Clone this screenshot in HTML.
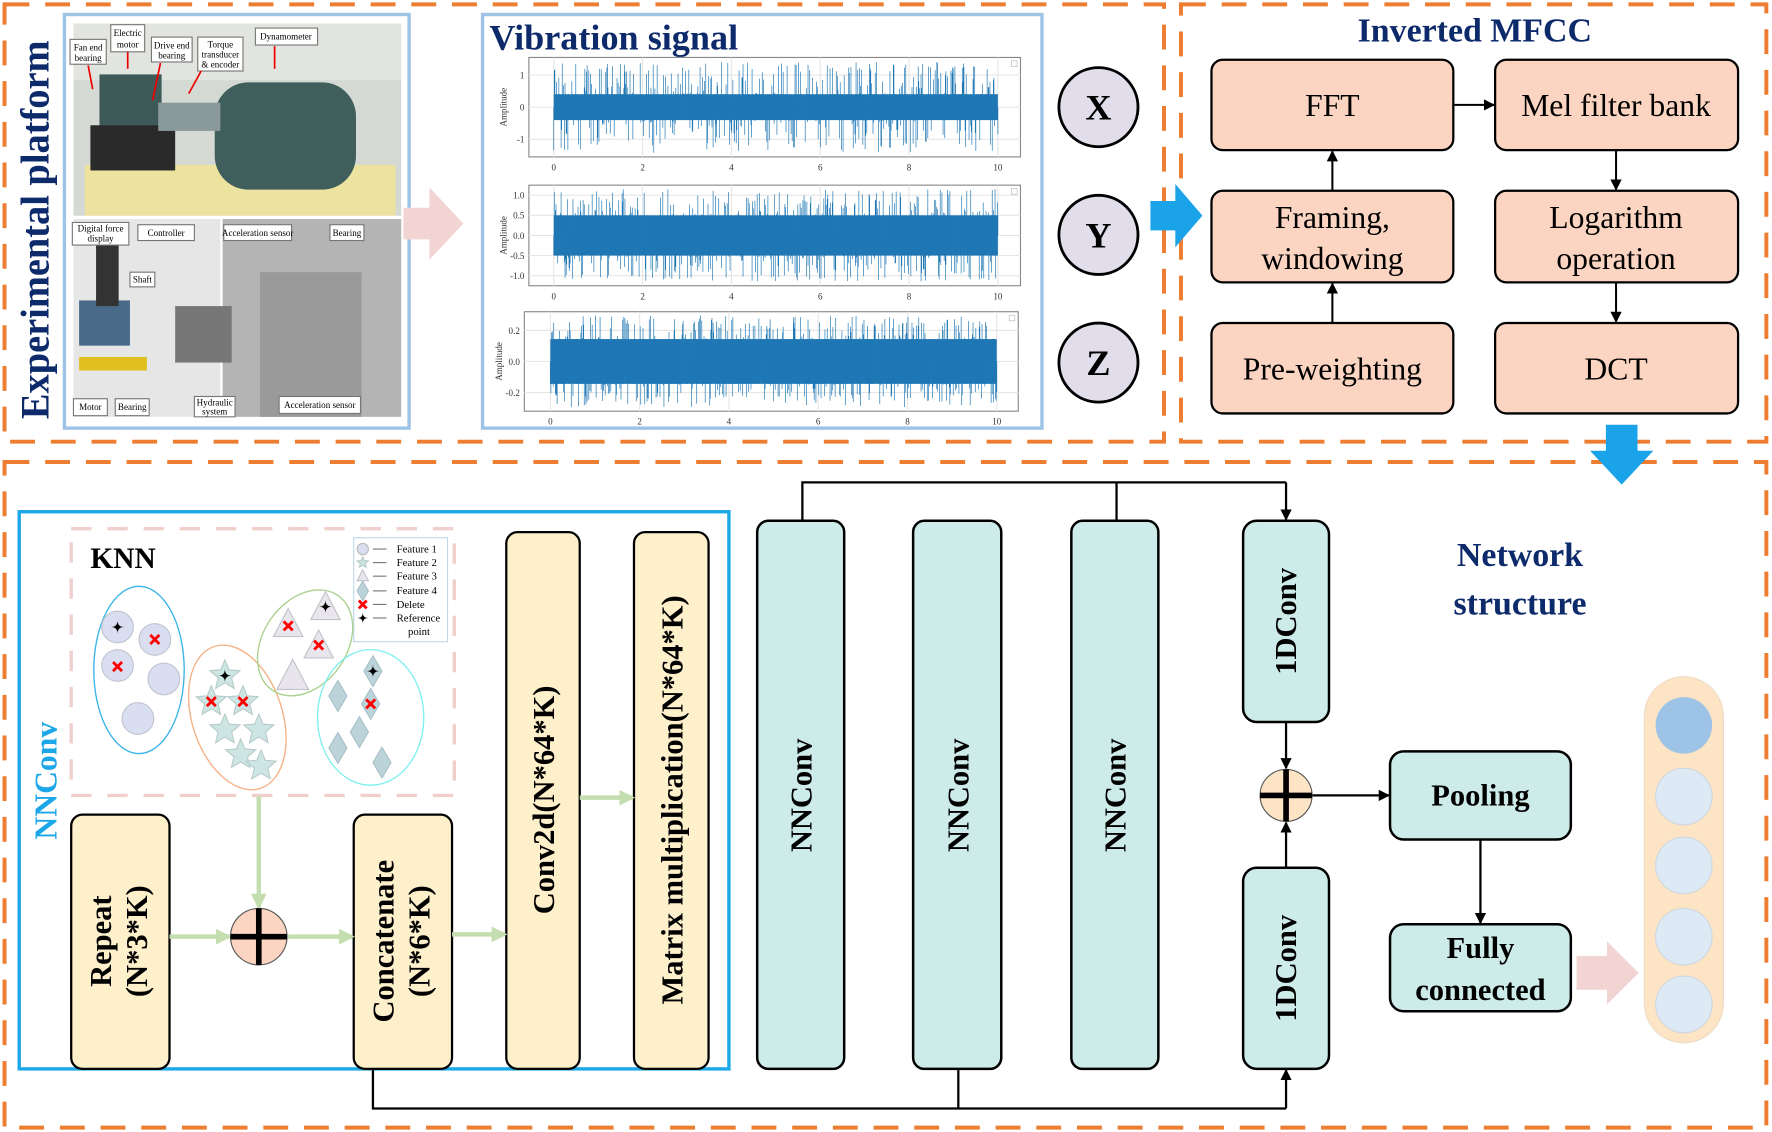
<!DOCTYPE html>
<html><head><meta charset="utf-8"><style>
html,body{margin:0;padding:0;background:#fff}
svg{display:block}
text{font-family:"Liberation Serif",serif}
</style></head><body>
<svg id="s" width="1772" height="1132" viewBox="0 0 1568 1000" xmlns="http://www.w3.org/2000/svg">
<defs>
<marker id="ah" markerWidth="10" markerHeight="10" refX="9" refY="5" orient="auto" markerUnits="userSpaceOnUse"><path d="M0,0 L10,5 L0,10 z" fill="#000"/></marker>
<marker id="ag" markerWidth="14" markerHeight="14" refX="12" refY="7" orient="auto" markerUnits="userSpaceOnUse"><path d="M0,0 L14,7 L0,14 z" fill="#C5DEB0"/></marker>
</defs>
<g fill="none" stroke="#ED7D31" stroke-width="3.5" stroke-dasharray="22,14">
<rect x="4" y="3" width="1026" height="387"/>
<rect x="1045" y="3" width="518" height="387"/>
<rect x="4" y="408" width="1559" height="589"/>
</g>
<text x="0" y="0" font-size="36" font-weight="bold" fill="#0D2A6B" textLength="335" lengthAdjust="spacingAndGlyphs" transform="translate(43,370) rotate(-90)">Experimental platform</text>
<rect x="57" y="12" width="305" height="366" fill="#fff" stroke="#9DC3E6" stroke-width="3"/>
<rect x="65" y="20" width="290" height="170" fill="#d4d9d4"/>
<rect x="65" y="20" width="290" height="50" fill="#e2e4e0"/>
<rect x="75" y="145" width="275" height="45" fill="#ece3a0"/>
<rect x="88" y="65" width="55" height="60" fill="#3d5a58"/>
<rect x="80" y="110" width="75" height="40" fill="#2a2a2a"/>
<rect x="190" y="72" width="125" height="95" rx="30" fill="#3f5e5c"/>
<rect x="140" y="90" width="55" height="25" fill="#8a9a9a"/>
<rect x="65" y="193" width="130" height="175" fill="#e6e6e6"/>
<rect x="197" y="193" width="158" height="175" fill="#b4b4b4"/>
<rect x="230" y="240" width="90" height="128" fill="#9a9a9a"/>
<rect x="70" y="265" width="45" height="40" fill="#4a6a8a"/>
<rect x="85" y="215" width="20" height="55" fill="#333"/>
<rect x="70" y="315" width="60" height="12" fill="#e0c020"/>
<rect x="155" y="270" width="50" height="50" fill="#777"/>
<g font-size="8" text-anchor="middle" fill="#000">
<rect x="62" y="34" width="32" height="22" fill="#fff" stroke="#777"/><text x="78" y="44">Fan end</text><text x="78" y="53">bearing</text>
<rect x="98" y="21" width="30" height="24" fill="#fff" stroke="#777"/><text x="113" y="31">Electric</text><text x="113" y="41">motor</text>
<rect x="134" y="32" width="36" height="22" fill="#fff" stroke="#777"/><text x="152" y="42">Drive end</text><text x="152" y="51">bearing</text>
<rect x="175" y="32" width="40" height="30" fill="#fff" stroke="#777"/><text x="195" y="41">Torque</text><text x="195" y="50">transducer</text><text x="195" y="59">&amp; encoder</text>
<rect x="226" y="24" width="55" height="15" fill="#fff" stroke="#777"/><text x="253" y="34">Dynamometer</text>
<rect x="64" y="196" width="50" height="20" fill="#fff" stroke="#777"/><text x="89" y="204">Digital force</text><text x="89" y="213">display</text>
<rect x="122" y="198" width="50" height="14" fill="#fff" stroke="#777"/><text x="147" y="208">Controller</text>
<rect x="198" y="198" width="60" height="14" fill="#fff" stroke="#777"/><text x="228" y="208">Acceleration sensor</text>
<rect x="292" y="198" width="30" height="14" fill="#fff" stroke="#777"/><text x="307" y="208">Bearing</text>
<rect x="115" y="240" width="22" height="13" fill="#fff" stroke="#777"/><text x="126" y="249">Shaft</text>
<rect x="65" y="352" width="30" height="15" fill="#fff" stroke="#777"/><text x="80" y="362">Motor</text>
<rect x="102" y="352" width="30" height="15" fill="#fff" stroke="#777"/><text x="117" y="362">Bearing</text>
<rect x="172" y="350" width="36" height="18" fill="#fff" stroke="#777"/><text x="190" y="358">Hydraulic</text><text x="190" y="366">system</text>
<rect x="247" y="350" width="72" height="15" fill="#fff" stroke="#777"/><text x="283" y="360">Acceleration sensor</text>
</g>
<g stroke="#e00" stroke-width="1.5" fill="none"><path d="M78,57 L82,78"/><path d="M113,45 L113,60"/><path d="M142,55 L135,88"/><path d="M178,62 L167,82"/><path d="M243,40 L243,60"/></g>
<path d="M357,183 L380,183 L380,165 L410,197 L380,229 L380,211 L357,211 z" fill="#F2D4D2"/>
<rect x="427" y="12" width="495" height="366" fill="#fff" stroke="#9DC3E6" stroke-width="3"/>
<text x="433" y="43" font-size="32" font-weight="bold" fill="#0D2A6B">Vibration signal</text>
<g id="plots"></g>
<g stroke="#000" stroke-width="2.5" fill="#E2DDEB">
<circle cx="972" cy="94" r="35"/><circle cx="972" cy="207" r="35"/><circle cx="972" cy="320" r="35"/></g>
<g font-size="32" text-anchor="middle" font-weight="bold"><text x="972" y="105">X</text><text x="972" y="218">Y</text><text x="972" y="331">Z</text></g>
<path d="M1018,177 L1040,177 L1040,162 L1064,190 L1040,218 L1040,203 L1018,203 z" fill="#1AA3E8"/>
<text x="1305" y="36" font-size="30" fill="#0D2A6B" text-anchor="middle" font-weight="bold">Inverted MFCC</text>
<g fill="#FBD5C1" stroke="#000" stroke-width="2">
<rect x="1072" y="52" width="214" height="80" rx="10"/><rect x="1323" y="52" width="215" height="80" rx="10"/>
<rect x="1072" y="168" width="214" height="81" rx="10"/><rect x="1323" y="168" width="215" height="81" rx="10"/>
<rect x="1072" y="285" width="214" height="80" rx="10"/><rect x="1323" y="285" width="215" height="80" rx="10"/></g>
<g font-size="28" text-anchor="middle">
<text x="1179" y="102">FFT</text><text x="1430" y="102">Mel filter bank</text>
<text x="1179" y="201">Framing,</text><text x="1179" y="237">windowing</text>
<text x="1430" y="201">Logarithm</text><text x="1430" y="237">operation</text>
<text x="1179" y="335">Pre-weighting</text><text x="1430" y="335">DCT</text></g>
<g stroke="#000" stroke-width="1.8" marker-end="url(#ah)">
<line x1="1179" y1="285" x2="1179" y2="250"/><line x1="1179" y1="168" x2="1179" y2="133"/>
<line x1="1287" y1="92" x2="1322" y2="92"/><line x1="1430" y1="132" x2="1430" y2="167"/><line x1="1430" y1="249" x2="1430" y2="284"/></g>
<path d="M1421,375 L1449,375 L1449,398 L1463,398 L1435,428 L1407,398 L1421,398 z" fill="#1AA3E8"/>
<rect x="17" y="452" width="628" height="493" fill="none" stroke="#1CA8E8" stroke-width="3"/>
<text x="0" y="0" font-size="28" fill="#1CA8E8" font-weight="bold" text-anchor="middle" transform="translate(50,690) rotate(-90)">NNConv</text>
<rect x="63" y="467" width="339" height="236" fill="none" stroke="#F0CFCC" stroke-width="3" stroke-dasharray="18,14"/>
<text x="80" y="502" font-size="26" font-weight="bold">KNN</text>
<rect x="313" y="475" width="83" height="92" fill="#fff" stroke="#BDD7EE"/>
<g font-size="9.5"><text x="351" y="488">Feature 1</text><text x="351" y="500">Feature 2</text><text x="351" y="512">Feature 3</text><text x="351" y="525">Feature 4</text><text x="351" y="537">Delete</text><text x="351" y="549">Reference</text><text x="361" y="561">point</text></g>
<g stroke="#777"><line x1="330" y1="485" x2="342" y2="485"/><line x1="330" y1="497" x2="342" y2="497"/><line x1="330" y1="509" x2="342" y2="509"/><line x1="330" y1="522" x2="342" y2="522"/><line x1="330" y1="534" x2="342" y2="534"/><line x1="330" y1="546" x2="342" y2="546"/></g>
<circle cx="321" cy="485" r="5" fill="#D9DFF0" stroke="#bbb"/>
<ellipse cx="123" cy="592" rx="40" ry="74" fill="none" stroke="#3AB4E8" stroke-width="1.2"/>
<ellipse cx="210" cy="634" rx="40" ry="66" transform="rotate(-18 210 634)" fill="none" stroke="#F4B183" stroke-width="1.2"/>
<ellipse cx="270" cy="568" rx="37" ry="51" transform="rotate(35 270 568)" fill="none" stroke="#A9D18E" stroke-width="1.2"/>
<ellipse cx="328" cy="634" rx="47" ry="60" fill="none" stroke="#7FEFEF" stroke-width="1.2"/>
<g fill="#D9DFF0" stroke="#c0c4d0"><circle cx="104" cy="554" r="14"/><circle cx="137" cy="565" r="14"/><circle cx="104" cy="588" r="14"/><circle cx="145" cy="600" r="14"/><circle cx="122" cy="635" r="14"/></g>
<g id="shapes"></g>
<g fill="#FDF0CB" stroke="#000" stroke-width="2">
<rect x="63" y="720" width="87" height="225" rx="10"/><rect x="313" y="720" width="87" height="225" rx="10"/>
<rect x="448" y="470" width="65" height="475" rx="10"/><rect x="561" y="470" width="66" height="475" rx="10"/></g>
<g font-size="27" font-weight="bold" text-anchor="middle">
<text transform="translate(98,832) rotate(-90)">Repeat</text><text transform="translate(130,832) rotate(-90)">(N*3*K)</text>
<text transform="translate(348,832) rotate(-90)">Concatenate</text><text transform="translate(380,832) rotate(-90)">(N*6*K)</text>
<text transform="translate(490,707) rotate(-90)">Conv2d(N*64*K)</text>
<text transform="translate(604,707) rotate(-90)">Matrix multiplication(N*64*K)</text></g>
<g stroke="#C5DEB0" stroke-width="4" marker-end="url(#ag)">
<line x1="229" y1="704" x2="229" y2="802"/><line x1="150" y1="828" x2="203" y2="828"/><line x1="255" y1="828" x2="312" y2="828"/>
<line x1="400" y1="826" x2="447" y2="826"/><line x1="513" y1="705" x2="560" y2="705"/></g>
<circle cx="229" cy="828" r="25" fill="#FBD5C1" stroke="#555"/><path d="M204,828 H254 M229,803 V853" stroke="#000" stroke-width="5"/>
<g fill="#CDEBE9" stroke="#000" stroke-width="2.2">
<rect x="670" y="460" width="77" height="485" rx="10"/><rect x="808" y="460" width="78" height="485" rx="10"/><rect x="948" y="460" width="77" height="485" rx="10"/>
<rect x="1100" y="460" width="76" height="178" rx="12"/><rect x="1100" y="767" width="76" height="178" rx="12"/>
<rect x="1230" y="664" width="160" height="78" rx="12"/><rect x="1230" y="817" width="160" height="77" rx="12"/></g>
<g font-size="27" font-weight="bold" text-anchor="middle">
<text transform="translate(718,703) rotate(-90)">NNConv</text><text transform="translate(857,703) rotate(-90)">NNConv</text><text transform="translate(996,703) rotate(-90)">NNConv</text>
<text transform="translate(1147,549) rotate(-90)">1DConv</text><text transform="translate(1147,856) rotate(-90)">1DConv</text>
<text x="1310" y="712">Pooling</text><text x="1310" y="847">Fully</text><text x="1310" y="884">connected</text></g>
<text x="1345" y="500" font-size="30" font-weight="bold" fill="#0D2A6B" text-anchor="middle">Network</text>
<text x="1345" y="543" font-size="30" font-weight="bold" fill="#0D2A6B" text-anchor="middle">structure</text>
<g stroke="#000" stroke-width="2" fill="none">
<path d="M710,460 V426 H1138"/><path d="M988,460 V426"/>
<path d="M330,945 V980 H1138"/><path d="M848,945 V980"/></g>
<g stroke="#000" stroke-width="2" marker-end="url(#ah)">
<line x1="1138" y1="426" x2="1138" y2="459"/><line x1="1138" y1="980" x2="1138" y2="946"/>
<line x1="1138" y1="638" x2="1138" y2="679"/><line x1="1138" y1="767" x2="1138" y2="727"/>
<line x1="1161" y1="703" x2="1229" y2="703"/><line x1="1310" y1="742" x2="1310" y2="816"/></g>
<circle cx="1138" cy="703" r="23" fill="#FCE4C4" stroke="#555"/><path d="M1115,703 H1161 M1138,680 V726" stroke="#000" stroke-width="5"/>
<path d="M1395,845 L1422,845 L1422,832 L1450,860 L1422,888 L1422,875 L1395,875 z" fill="#F2D4D2"/>
<rect x="1455" y="598" width="70" height="324" rx="35" fill="#FCE4C4" stroke="#eedcc8"/>
<circle cx="1490" cy="641" r="25" fill="#9DC3E6"/>
<g fill="#DDE9F5" stroke="#cfd8e0"><circle cx="1490" cy="704" r="25"/><circle cx="1490" cy="765" r="25"/><circle cx="1490" cy="828" r="25"/><circle cx="1490" cy="888" r="25"/></g>
</svg>
<script>
(function(){
var NS="http://www.w3.org/2000/svg",s=document.getElementById('s');
function el(t,a,p){var e=document.createElementNS(NS,t);for(var k in a)e.setAttribute(k,a[k]);(p||s).appendChild(e);return e;}
var seed=7;function r(){seed=(seed*16807)%2147483647;return seed/2147483647;}
var g=document.getElementById('plots');
var P=[{x0:468,x1:903,y0:50,y1:138,t0:490,t1:883,amp:[1,0,-1],lab:["1","0","-1"],mx:1.55,b:0.26},
{x0:468,x1:903,y0:163,y1:252,t0:490,t1:883,amp:[1,0.5,0,-0.5,-1],lab:["1.0","0.5","0.0","-0.5","-1.0"],mx:1.25,b:0.4},
{x0:464,x1:901,y0:275,y1:363,t0:487,t1:882,amp:[0.2,0,-0.2],lab:["0.2","0.0","-0.2"],mx:0.32,b:0.45}];
P.forEach(function(p){
 el('rect',{x:p.x0,y:p.y0,width:p.x1-p.x0,height:p.y1-p.y0,fill:'#fff',stroke:'#888','stroke-width':1},g);
 var ym=(p.y0+p.y1)/2,h=(p.y1-p.y0)/2;
 for(var i=0;i<=5;i++){var x=p.t0+(p.t1-p.t0)*i/5;el('line',{x1:x,y1:p.y0,x2:x,y2:p.y1,stroke:'#e6e6e6'},g);
  var t=el('text',{x:x,y:p.y1+12,'font-size':8,'text-anchor':'middle',fill:'#333'},g);t.textContent=String(i*2);}
 p.amp.forEach(function(v,j){var y=ym-v/p.mx*h;el('line',{x1:p.x0,y1:y,x2:p.x1,y2:y,stroke:'#e6e6e6'},g);
  var t=el('text',{x:p.x0-4,y:y+3,'font-size':8,'text-anchor':'end',fill:'#333'},g);t.textContent=p.lab[j];});
 var tl=el('text',{'font-size':8,'text-anchor':'middle',fill:'#333',transform:'translate('+(p.x0-20)+','+ym+') rotate(-90)'},g);tl.textContent='Amplitude';
 el('rect',{x:p.t0,y:ym-p.b*h,width:p.t1-p.t0,height:2*p.b*h,fill:'#1F77B4'},g);
 var d='';for(var x=p.t0;x<=p.t1;x+=0.5){var q=r();var big=q<0.45?(p.b+r()*(0.92-p.b)):p.b;var sg=r()<0.5?1:-1;d+='M'+x.toFixed(1)+','+ym+'L'+x.toFixed(1)+','+(ym+sg*big*h).toFixed(1);}
 el('path',{d:d,stroke:'#1F77B4','stroke-width':0.6,fill:'none'},g);
 el('rect',{x:p.x1-8,y:p.y0+3,width:5,height:5,fill:'none',stroke:'#bbb','stroke-width':0.6},g);
});
var sh=document.getElementById('shapes');
function star(cx,cy,R){var d='';for(var i=0;i<10;i++){var a=-Math.PI/2+i*Math.PI/5,rr=i%2?R*0.45:R;d+=(i?'L':'M')+(cx+rr*Math.cos(a)).toFixed(1)+','+(cy+rr*Math.sin(a)).toFixed(1);}return d+'z';}
[[199,597],[187,620],[215,620],[199,645],[229,645],[213,667],[231,677]].forEach(function(c){el('path',{d:star(c[0],c[1],14),fill:'#CDE6E4',stroke:'#b6ccca'},sh);});
el('path',{d:star(321,497,5),fill:'#CDE6E4',stroke:'#b6ccca'},sh);
[[255,552,13],[288,537,13],[282,571,13],[259,598,14],[321,509,5]].forEach(function(c){var x=c[0],y=c[1],z=c[2];el('path',{d:'M'+x+','+(y-z*1.1)+'L'+(x+z)+','+(y+z*0.8)+'L'+(x-z)+','+(y+z*0.8)+'z',fill:'#E8E6EC',stroke:'#c4c2ca'},sh);});
[[330,593,8],[328,622,8],[299,615,8],[318,647,8],[299,661,8],[338,674,8],[321,522,5]].forEach(function(c){var x=c[0],y=c[1],z=c[2];el('path',{d:'M'+x+','+(y-z*1.7)+'L'+(x+z)+','+y+'L'+x+','+(y+z*1.7)+'L'+(x-z)+','+y+'z',fill:'#BCD3DA',stroke:'#a8c0c8'},sh);});
function cross(x,y,z){el('path',{d:'M'+(x-z)+','+(y-z)+'L'+(x+z)+','+(y+z)+'M'+(x+z)+','+(y-z)+'L'+(x-z)+','+(y+z),stroke:'#f00','stroke-width':2.5},sh);}
function refp(x,y,z){el('path',{d:'M'+x+','+(y-z)+'Q'+x+','+y+' '+(x+z)+','+y+'Q'+x+','+y+' '+x+','+(y+z)+'Q'+x+','+y+' '+(x-z)+','+y+'Q'+x+','+y+' '+x+','+(y-z)+'z',fill:'#000'},sh);}
[[137,565],[104,589],[187,620],[215,620],[255,553],[282,570],[328,622]].forEach(function(c){cross(c[0],c[1],4);});
cross(321,534,3.5);
[[104,554,6],[199,597,6],[288,536,6],[330,593,6],[321,546,5]].forEach(function(c){refp(c[0],c[1],c[2]);});
})();
</script>
</body></html>
